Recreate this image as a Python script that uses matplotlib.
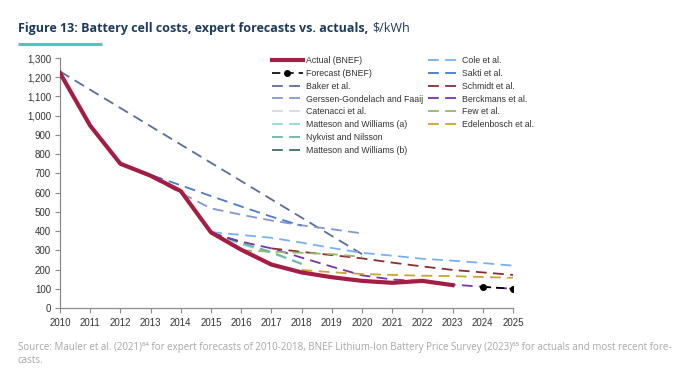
import matplotlib
matplotlib.use("Agg")
import matplotlib.pyplot as plt
from matplotlib.lines import Line2D
from matplotlib.ticker import FuncFormatter, MultipleLocator

# ---------------- data ----------------
actual_years = [2010, 2011, 2012, 2013, 2014, 2015, 2016, 2017, 2018, 2019, 2020, 2021, 2022, 2023]
actual_vals = [1222, 948, 750, 688, 608, 393, 303, 226, 185, 160, 141, 131, 141, 119]

forecast_years = [2024, 2025]
forecast_vals = [110, 100]

baker_years = [2010, 2020]
baker_vals = [1230, 280]

gerssen_years = [2012, 2013, 2014, 2015, 2016, 2017, 2018, 2019, 2020]
gerssen_vals = [750, 683, 598, 518, 485, 455, 430, 410, 388]

catenacci_years = [2012, 2013, 2014]
catenacci_vals = [748, 695, 615]

matteson_a_years = [2015, 2016, 2017, 2018]
matteson_a_vals = [392, 332, 285, 232]

nykvist_years = [2015, 2016, 2017, 2018]
nykvist_vals = [392, 338, 292, 228]

matteson_b_years = [2015, 2016]
matteson_b_vals = [392, 342]

cole_years = [2015, 2016, 2017, 2018, 2019, 2020, 2021, 2022, 2023, 2024, 2025]
cole_vals = [395, 380, 365, 340, 312, 287, 272, 256, 246, 234, 220]

sakti_years = [2012, 2013, 2014, 2015, 2016, 2017, 2018]
sakti_vals = [752, 692, 638, 582, 528, 475, 428]

schmidt_years = [2017, 2018, 2019, 2020, 2021, 2022, 2023, 2024, 2025]
schmidt_vals = [310, 292, 275, 258, 236, 216, 198, 185, 172]

berckmans_years = [2015, 2016, 2017, 2018, 2019, 2020, 2021, 2022, 2023, 2024, 2025]
berckmans_vals = [390, 345, 310, 262, 215, 170, 148, 140, 122, 110, 100]

few_years = [2016, 2017, 2018, 2019, 2020]
few_vals = [300, 293, 287, 280, 266]

edelen_years = [2018, 2019, 2020, 2021, 2022, 2023, 2024, 2025]
edelen_vals = [198, 186, 177, 172, 168, 166, 161, 157]

year_ticks = list(range(2010, 2026))

# ---------------- figure ----------------
W, H = 679, 368
fig = plt.figure(figsize=(W / 100, H / 100), dpi=100)
fig.patch.set_facecolor("white")

ax = fig.add_axes([60 / W, 1 - 308 / H, (513 - 60) / W, 250 / H])

dash = (6, 3.5)
lw = 1.3
series = [
    ("Baker et al.", baker_years, baker_vals, "#5a6e9c"),
    ("Gerssen-Gondelach and Faaij", gerssen_years, gerssen_vals, "#8497cf"),
    ("Catenacci et al.", catenacci_years, catenacci_vals, "#d3d9e4"),
    ("Matteson and Williams (a)", matteson_a_years, matteson_a_vals, "#8fd8d2"),
    ("Nykvist and Nilsson", nykvist_years, nykvist_vals, "#6ab5ab"),
    ("Matteson and Williams (b)", matteson_b_years, matteson_b_vals, "#3e6e68"),
    ("Cole et al.", cole_years, cole_vals, "#78b0f2"),
    ("Sakti et al.", sakti_years, sakti_vals, "#4a7bcc"),
    ("Schmidt et al.", schmidt_years, schmidt_vals, "#8b2e30"),
    ("Berckmans et al.", berckmans_years, berckmans_vals, "#7436ab"),
    ("Few et al.", few_years, few_vals, "#93b866"),
    ("Edelenbosch et al.", edelen_years, edelen_vals, "#c8a633"),
]

handles = {}
for name, xs, ys, c in series:
    (h,) = ax.plot(xs, ys, color=c, lw=lw, dashes=dash, zorder=2, label=name)
    handles[name] = h

(h_act,) = ax.plot(actual_years, actual_vals, color="#a31d45", lw=3, zorder=5,
                   solid_joinstyle="round", label="Actual (BNEF)")
(h_fc,) = ax.plot(forecast_years, forecast_vals, color="black", lw=1.2, dashes=(5, 3),
                  marker="o", markersize=4, zorder=6, label="Forecast (BNEF)")

ax.set_xlim(2010, 2025)
ax.set_ylim(0, 1300)
ax.set_xticks(year_ticks)
ax.set_xticklabels([str(y) for y in year_ticks])
ax.yaxis.set_major_locator(MultipleLocator(100))
ax.yaxis.set_major_formatter(FuncFormatter(lambda v, p: f"{int(v):,}"))

for s in ["top", "right"]:
    ax.spines[s].set_visible(False)
for s in ["left", "bottom"]:
    ax.spines[s].set_color("#8c8c8c")
    ax.spines[s].set_linewidth(0.9)

ax.tick_params(axis="both", colors="#8c8c8c", labelcolor="#333333",
               labelsize=7, length=3.5, width=0.8, direction="out")
ax.tick_params(axis="x", pad=4)
ax.tick_params(axis="y", pad=3)
for lab in ax.get_xticklabels() + ax.get_yticklabels():
    lab.set_family(["Liberation Sans", "DejaVu Sans"])

# legends
col1 = [h_act, h_fc, handles["Baker et al."], handles["Gerssen-Gondelach and Faaij"],
        handles["Catenacci et al."], handles["Matteson and Williams (a)"],
        handles["Nykvist and Nilsson"], handles["Matteson and Williams (b)"]]
col2 = [handles["Cole et al."], handles["Sakti et al."], handles["Schmidt et al."],
        handles["Berckmans et al."], handles["Few et al."], handles["Edelenbosch et al."]]

legprops = dict(family=["Liberation Sans", "DejaVu Sans"], size=6.3)
common = dict(loc="upper left", frameon=False, prop=legprops, handlelength=3.5,
              handletextpad=0.4, labelspacing=0.44, borderaxespad=0, borderpad=0)
leg1 = fig.legend(handles=col1, labels=[h.get_label() for h in col1],
                  bbox_to_anchor=(272 / W, 1 - 56 / H), **common)
leg2 = fig.legend(handles=col2, labels=[h.get_label() for h in col2],
                  bbox_to_anchor=(428 / W, 1 - 56 / H), **common)
for t in leg1.get_texts() + leg2.get_texts():
    t.set_color("#333333")

# title
title_font = ["Open Sans", "DejaVu Sans"]
t1 = fig.text(18 / W, 1 - 32 / H, "Figure 13: Battery cell costs, expert forecasts vs. actuals,",
              fontsize=9.0, fontweight="bold", color="#1e3a5c", family=title_font,
              va="baseline", ha="left")
fig.canvas.draw()
bb = t1.get_window_extent()
fig.text((bb.x1 + 3.5) / W, 1 - 32 / H, "$/kWh", fontsize=9.0, color="#1e3a5c",
         family=title_font, va="baseline", ha="left")

# teal underline
fig.add_artist(Line2D([18 / W, 102 / W], [1 - 44 / H, 1 - 44 / H], color="#4cc5c4",
                      lw=2.2, solid_capstyle="butt"))

# source
src_font = ["Open Sans", "DejaVu Sans"]
fig.text(18 / W, 1 - 350 / H,
         "Source: Mauler et al. (2021)\u2076\u2074 for expert forecasts of 2010-2018, BNEF Lithium-Ion Battery "
         "Price Survey (2023)\u2076\u2075 for actuals and most recent fore-",
         fontsize=7.0, color="#a6a6a6", family=src_font, va="baseline", ha="left")
fig.text(18 / W, 1 - 363 / H, "casts.", fontsize=7.0, color="#a6a6a6", family=src_font,
         va="baseline", ha="left")

fig.savefig("out.png", dpi=100, facecolor="white")
